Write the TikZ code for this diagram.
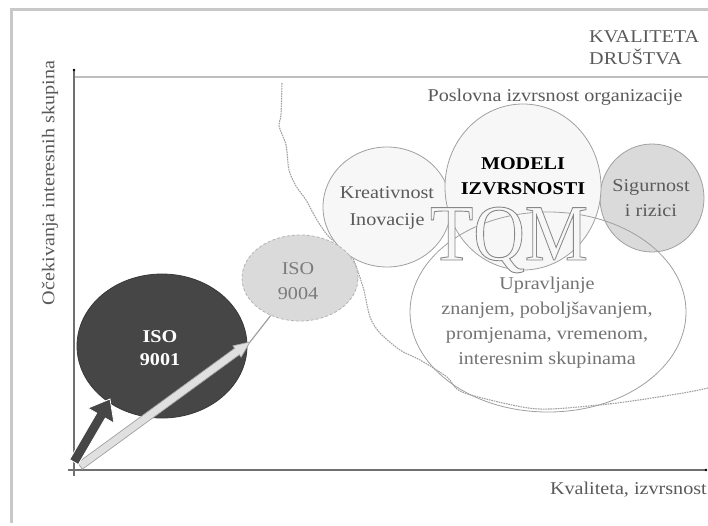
\documentclass[tikz,border=0pt]{standalone}
\usepackage{fontspec}
\setmainfont{Liberation Serif}[FakeStretch=1.12]
\newfontfamily\tqmfont{Liberation Serif}
\usetikzlibrary{shapes.geometric}
\definecolor{framegray}{HTML}{C8C8C8}
\definecolor{axisgray}{HTML}{707070}
\definecolor{hlinegray}{HTML}{BEBEBE}
\definecolor{textgray}{HTML}{5A5A5A}
\definecolor{isodark}{HTML}{464646}
\definecolor{isolight}{HTML}{DADADA}
\definecolor{bubblefill}{HTML}{F7F7F7}
\definecolor{bubbleedge}{HTML}{A0A0A0}
\definecolor{curvegray}{HTML}{A2A2A2}
\newcommand{\outlinetext}[1]{\special{pdf:literal direct 2 Tr 0.9 w 0.53 0.53 0.53 RG}#1\special{pdf:literal direct 0 Tr}}
\begin{document}
\begin{tikzpicture}[x=1pt,y=-1pt,
  bubble/.style={ellipse, inner sep=0pt, draw=bubbleedge, line width=0.8pt},
  txt/.style={text=textgray, inner sep=0pt, align=center, font=\fontsize{18}{25}\selectfont},
  frameline/.style={draw=framegray, line width=3pt},
  axis/.style={draw=axisgray, line width=2pt}]
\useasboundingbox (0,0) rectangle (708,525);
\fill[white] (0,0) rectangle (708,525);
% frame
\draw[frameline] (11,523) -- (11,9) -- (708,9);
\draw[draw=hlinegray, line width=2.5pt] (74,77) -- (708,77);
% axes
\coordinate (o) at (74,470);
\coordinate (ytop) at (74,70);
\coordinate (xend) at (706,470);
\draw[axis] (74,476) -- (ytop);
\draw[axis] (68,470) -- (xend);
\fill[black] (ytop) circle (1.3pt);
\fill[black] (xend) circle (1.3pt);
% boundary curve
\draw[curvegray, dash pattern=on 1.6pt off 0.9pt, line width=1.1pt] plot[smooth, tension=0.5] coordinates {
 (282,83) (281,115) (279,126) (286,145) (289,170) (296,186) (306,200) (317,220) (330,238)
 (350,253) (363,287) (370,317) (380,333) (400,350) (420,360) (447,377) (462,392)
 (517,406) (550,409) (617,403) (683,393) (708,388)};
% bubbles
\node[bubble, fill=bubblefill, minimum width=128pt, minimum height=120pt] (krea) at (387,207) {};
\node[bubble, fill=isolight, minimum width=104pt, minimum height=108pt] (sig) at (652,198) {};
\node[bubble, fill=bubblefill, minimum width=156pt, minimum height=166pt] (mod) at (523,187) {};
\node[bubble, minimum width=276pt, minimum height=200pt] (upr) at (548,312) {};
% TQM
\node[inner sep=0pt, anchor=base, text=white!97!black] (tqm) at (509,260)
  {\scalebox{0.89}[1]{\tqmfont\fontsize{80}{80}\selectfont\outlinetext{TQM}}};
% ISO bubbles
\node[bubble, fill=isolight, draw=bubbleedge!80, densely dashed, minimum width=116pt, minimum height=86pt] (iso4) at (300,278) {};
\node[bubble, fill=isodark, draw=isodark!80!black, minimum width=170pt, minimum height=144pt] (iso1) at (162,346) {};
% white arrow
\coordinate (wtip) at (250,342);
\draw[draw=bubbleedge, line width=1.2pt] (wtip) -- (iso4);
\filldraw[fill=isolight!85!white, draw=bubbleedge, line width=0.7pt]
  (82.4,469.2) -- (239.4,354.7) -- (241.1,357.2) -- (wtip) -- (232.9,345.8) -- (234.6,348.3) -- (77.6,462.8) -- cycle;
% dark arrow
\filldraw[fill=isodark, draw=white, line width=0.8pt]
  (78.3,464.5) -- (105.3,418.1) -- (114.0,423.1) -- (110,399) -- (88.0,408.1) -- (96.7,413.1) -- (69.7,459.5) -- cycle;
% texts
\node[txt, text=white, font=\fontsize{18}{23}\selectfont\bfseries] (t1) at (160,348) {ISO\\9001};
\node[txt, text=textgray!80] (t4) at (298,281) {ISO\\9004};
\node[txt, font=\fontsize{18}{27}\selectfont] (tk) at (387,208) {Kreativnost\\Inovacije};
\node[txt, text=black, font=\fontsize{18}{25}\selectfont\bfseries] (tm) at (523,176) {MODELI\\IZVRSNOSTI};
\node[txt] (ts) at (651,198) {Sigurnost\\i rizici};
\node[txt, text=textgray!85] (tu) at (547,323) {Upravljanje\\znanjem, poboljšavanjem,\\promjenama, vremenom,\\interesnim skupinama};
\node[txt, align=left, anchor=north west, font=\fontsize{18}{22}\selectfont] (kd) at (589,30) {KVALITETA\\DRUŠTVA};
\node[txt] (pio) at (555,97) {Poslovna izvrsnost organizacije};
\node[txt, rotate=90] (ylab) at (50,183) {Očekivanja interesnih skupina};
\node[txt, anchor=east] (xlab) at (707,490) {Kvaliteta, izvrsnost};
\end{tikzpicture}
\end{document}
